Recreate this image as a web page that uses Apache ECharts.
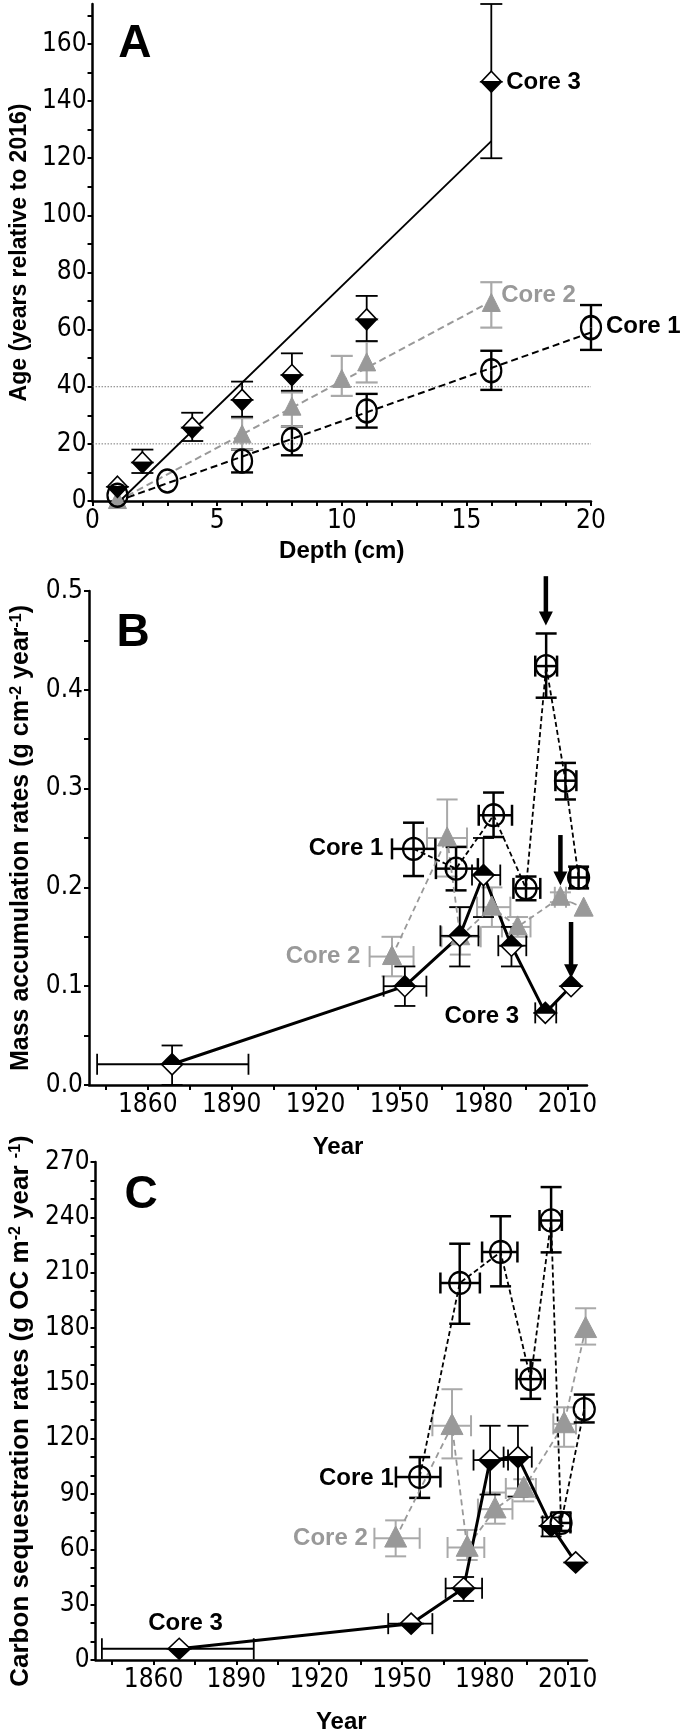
<!DOCTYPE html>
<html><head><meta charset="utf-8">
<script src="https://cdn.jsdelivr.net/npm/echarts@6/dist/echarts.min.js"></script>
<style>html,body{margin:0;padding:0;background:#fff}#c{width:685px;height:1735px}</style>
</head><body><div id="c"></div>
<script>
// ================= DATA =================
// ---- Panel A: age vs depth
const depthLabels = [0, 5, 10, 15, 20];
const depthTicks = [0,1,2,3,4,5,6,7,8,9,10,11,12,13,14,15,16,17,18,19,20];
const ageLabels = [0, 20, 40, 60, 80, 100, 120, 140, 160];
const ageTicks = [0,10,20,30,40,50,60,70,80,90,100,110,120,130,140,150,160,170];
const aRefLevels = [20, 40];

const aC1Depth = [1, 3, 6, 8, 11, 16, 20];
const aC1Age   = [2, 7, 14, 21.5, 31.5, 45.6, 60.7];
const aC1Lo    = [null, null, 10, 16, 25.7, 38.9, 52.9];
const aC1Hi    = [null, null, 18, 26, 37.5, 52.6, 68.6];

const aC2Depth = [1, 6, 8, 10, 11, 16];
const aC2Age   = [0, 23, 32.7, 42.4, 48.2, 69];
const aC2Lo    = [null, 18, 26, 36.8, 41.5, 60.7];
const aC2Hi    = [null, 29, 38, 50.8, 55.8, 76.6];

const aC3Depth = [1, 2, 4, 6, 8, 11, 16];
const aC3Age   = [5, 13.5, 25.7, 35.4, 44.1, 63.6, 146.8];
const aC3Lo    = [null, 9.8, 21, 29.5, 38.6, 56, 120];
const aC3Hi    = [null, 18, 30.9, 41.8, 51.7, 71.8, 174];

// regression lines (end points)
const aFit1Depth = [1, 20];   const aFit1Age = [0, 59];
const aFit2Depth = [1, 15.8]; const aFit2Age = [0, 69];
const aFit3Depth = [1.1, 16]; const aFit3Age = [0, 126];

// ---- Panels B & C: year axis
const yearLabels = [1860, 1890, 1920, 1950, 1980, 2010];
const yearTicks = [1845,1860,1875,1890,1905,1920,1935,1950,1965,1980,1995,2010];

// ---- Panel B: mass accumulation rates
const marLabels = [0, 0.1, 0.2, 0.3, 0.4, 0.5];
const marTicks = [0,0.05,0.1,0.15,0.2,0.25,0.3,0.35,0.4,0.45,0.5];

const bC1Year = [1955.0, 1970.2, 1983.6, 1995.2, 2002.4, 2009.3, 2014.0];
const bC1Val  = [0.239, 0.219, 0.273, 0.199, 0.424, 0.308, 0.210];
const bC1XLo  = [1947.3, 1963.0, 1978.3, 1990.7, 1998.5, 2005.7, 2011.0];
const bC1XHi  = [1962.8, 1978.0, 1990.2, 2000.3, 2006.3, 2013.2, 2017.0];
const bC1YLo  = [0.2115, 0.197, 0.251, 0.187, 0.392, 0.289, 0.199];
const bC1YHi  = [0.2655, 0.241, 0.296, 0.211, 0.457, 0.326, 0.221];

const bC2Year = [1947.3, 1967.0, 1971.7, 1983.0, 1992.2, 2007.5, 2015.8];
const bC2Val  = [0.130, 0.250, 0.150, 0.180, 0.160, 0.190, 0.179];
const bC2XLo  = [1939.3, 1959.8, 1965.0, 1977.7, 1986.6, 2005.5, null];
const bC2XHi  = [1955.0, 1974.1, 1979.0, 1989.6, 1996.8, 2009.5, null];
const bC2YLo  = [0.110, 0.211, 0.132, 0.160, 0.150, 0.185, null];
const bC2YHi  = [0.150, 0.289, 0.180, 0.200, 0.170, 0.195, null];

const bC3Year = [1868.7, 1951.9, 1971.5, 1980.0, 1990.0, 2002.1, 2011.3];
const bC3Val  = [0.021, 0.100, 0.151, 0.2125, 0.141, 0.073, 0.100];
const bC3XLo  = [1841.9, 1944.3, 1964.6, 1975.9, 1985.3, 1998.5, null];
const bC3XHi  = [1896.0, 1959.6, 1978.2, 1986.0, 1995.3, 2006.0, null];
const bC3YLo  = [0.0, 0.08, 0.12, 0.17, 0.12, null, null];
const bC3YHi  = [0.04, 0.12, 0.18, 0.25, 0.16, null, null];

// arrows in panel B: year, from value, to value
const bArrowYear = [2002.3, 2007.5, 2011.3];
const bArrowFrom = [0.515, 0.253, 0.165];
const bArrowTo   = [0.465, 0.202, 0.108];

// ---- Panel C: carbon sequestration rates
const csrLabels = [0, 30, 60, 90, 120, 150, 180, 210, 240, 270];
const csrTicks = [0,10,20,30,40,50,60,70,80,90,100,110,120,130,140,150,160,170,180,190,200,210,220,230,240,250,260,270];

const cC1Year = [1956.4, 1970.9, 1985.7, 1996.6, 2004.0, 2007.6, 2016.0];
const cC1Val  = [99.2, 204.4, 221.2, 152.3, 238.3, 74.3, 136];
const cC1XLo  = [1947.8, 1963.9, 1979.0, 1991.5, 1999.8, 2004.0, null];
const cC1XHi  = [1963.9, 1978.2, 1991.8, 2001.7, 2007.9, 2011.0, null];
const cC1YLo  = [87.9, 182.3, 202.6, 141.6, 221, 70, 128.8];
const cC1YHi  = [110, 225.7, 240.6, 162.6, 256.4, 80, 143.9];

const cC2Year = [1947.7, 1968.1, 1973.6, 1983.7, 1994.1, 2008.7, 2016.5];
const cC2Val  = [66, 127, 61, 81.8, 93, 128, 179.6];
const cC2XLo  = [1940.0, 1961.0, 1966.5, 1977.5, 1987.6, 2004.8, null];
const cC2XHi  = [1956.4, 1975.0, 1979.8, 1990.0, 1998.5, 2013.0, null];
const cC2YLo  = [56.2, 109.3, 54.2, 73.9, 86, 115.6, 171];
const cC2YHi  = [75.7, 146.8, 70.5, 90.8, 98, 137, 190.7];

const cC3Year = [1869.3, 1953.3, 1972.3, 1981.9, 1992.0, 2004.0, 2012.9];
const cC3Val  = [6.1, 19.7, 38.9, 108.4, 110, 72.7, 52.9];
const cC3XLo  = [1841.3, 1945.0, 1965.8, 1975.9, 1986.8, 2000.9, null];
const cC3XHi  = [1896.3, 1961.0, 1979.0, 1988.4, 1997.0, 2007.0, null];
const cC3YLo  = [null, null, 32, 89.7, 88.6, 67, null];
const cC3YHi  = [null, null, 45, 127, 127, 77.3, null];

// ================= STYLE / LAYOUT =================
const FONT = '"Liberation Sans", Arial, Helvetica, sans-serif';
function hasFont(name){
  const c = document.createElement('canvas').getContext('2d');
  const t = '1860 0.5 Core wmW';
  c.font = '30px monospace'; const w1 = c.measureText(t).width;
  c.font = '30px "' + name + '", monospace'; const w2 = c.measureText(t).width;
  return Math.abs(w1 - w2) > 0.5;
}
let TICK_FONT = FONT, TICK_SIZE = 25;
if (hasFont('Liberation Sans Narrow')) { TICK_FONT = '"Liberation Sans Narrow"'; TICK_SIZE = 30; }
else if (hasFont('Arial Narrow')) { TICK_FONT = '"Arial Narrow"'; TICK_SIZE = 30; }
else if (hasFont('DejaVu Sans Condensed')) { TICK_FONT = '"DejaVu Sans Condensed"'; TICK_SIZE = 26; }

const GRAY = '#999999';
const GRAY_ERR = '#a9a9a9';

const notes = [
  {g:0, x:1.7, y:160, text:'A', size:46, align:'center'},
  {g:0, x:16.6, y:146.5, text:'Core 3', size:24, align:'left'},
  {g:0, x:16.4, y:72, text:'Core 2', size:24, align:'left', color:GRAY},
  {g:0, x:20.6, y:61, text:'Core 1', size:24, align:'left'},
  {g:1, x:1854.8, y:0.457, text:'B', size:46, align:'center'},
  {g:1, x:1944.2, y:0.239, text:'Core 1', size:24, align:'right'},
  {g:1, x:1936.0, y:0.130, text:'Core 2', size:24, align:'right', color:GRAY},
  {g:1, x:1979.4, y:0.069, text:'Core 3', size:24, align:'center'},
  {g:2, x:1855.5, y:252, text:'C', size:46, align:'center'},
  {g:2, x:1947.0, y:98.5, text:'Core 1', size:24, align:'right'},
  {g:2, x:1937.6, y:66, text:'Core 2', size:24, align:'right', color:GRAY},
  {g:2, x:1871.6, y:19.6, text:'Core 3', size:24, align:'center'}
];

// ================= HELPERS =================
function pairs(xs, ys){ return xs.map((x,i)=>[x, ys[i]]); }

function errSeries(g, xs, ys, xlo, xhi, ylo, yhi, color, width, capY, capX){
  return {
    type:'custom', xAxisIndex:g, yAxisIndex:g, z:2, silent:true, clip:false,
    data: pairs(xs, ys),
    renderItem(params, api){
      const i = params.dataIndex;
      const x = api.value(0), y = api.value(1);
      const st = {stroke:color, lineWidth:width, fill:null};
      const ch = [];
      const seg = (a,b)=>ch.push({type:'line', shape:{x1:a[0],y1:a[1],x2:b[0],y2:b[1]}, style:st});
      const c = api.coord([x,y]);
      [ylo, yhi].forEach(arr=>{
        if (arr && arr[i]!=null){
          const p = api.coord([x, arr[i]]);
          seg(c, p); seg([p[0]-capY, p[1]], [p[0]+capY, p[1]]);
        }
      });
      [xlo, xhi].forEach(arr=>{
        if (arr && arr[i]!=null){
          const p = api.coord([arr[i], y]);
          seg(c, p); seg([p[0], p[1]-capX], [p[0], p[1]+capX]);
        }
      });
      return {type:'group', children:ch};
    }
  };
}

function markerSeries(g, xs, ys, kind, w, h, opt){
  opt = opt || {};
  return {
    type:'custom', xAxisIndex:g, yAxisIndex:g, z:5, silent:true, clip:false,
    data: pairs(xs, ys),
    renderItem(params, api){
      const p = api.coord([api.value(0), api.value(1)]);
      const cx = p[0], cy = p[1];
      if (kind === 'circle'){
        return {type:'circle', x:cx, y:cy, scaleY:h/w, shape:{cx:0, cy:0, r:w/2},
          style:{fill:null, stroke:'#000', lineWidth:2.2}};
      }
      if (kind === 'tri'){
        return {type:'polygon', shape:{points:[[cx, cy-h*0.58],[cx-w/2, cy+h*0.42],[cx+w/2, cy+h*0.42]]},
          style:{fill:GRAY, stroke:GRAY, lineWidth:1}};
      }
      const top = [[cx, cy-h/2],[cx+w/2, cy],[cx-w/2, cy]];
      const bot = [[cx-w/2, cy],[cx+w/2, cy],[cx, cy+h/2]];
      const darkTop = opt.darkTop;
      return {type:'group', children:[
        {type:'polygon', shape:{points:top}, style:{fill: darkTop ? '#000' : '#fff', stroke:'#000', lineWidth:1.6, lineJoin:'miter'}},
        {type:'polygon', shape:{points:bot}, style:{fill: darkTop ? '#fff' : '#000', stroke:'#000', lineWidth:1.6, lineJoin:'miter'}}
      ]};
    }
  };
}

function lineSeries(g, xs, ys, color, width, dash, z){
  return {type:'line', xAxisIndex:g, yAxisIndex:g, data:pairs(xs, ys), symbol:'none', silent:true,
    z: z||3, animation:false, lineStyle:{color:color, width:width, type:dash || 'solid'}};
}

function arrowSeries(g, xs, from, to){
  return {type:'custom', xAxisIndex:g, yAxisIndex:g, z:8, silent:true, clip:false,
    data: pairs(xs, from),
    renderItem(params, api){
      const i = params.dataIndex;
      const a = api.coord([xs[i], from[i]]);
      const b = api.coord([xs[i], to[i]]);
      const headL = 14, headW = 7;
      return {type:'group', children:[
        {type:'line', shape:{x1:a[0], y1:a[1], x2:b[0], y2:b[1]-headL+2}, style:{stroke:'#000', lineWidth:4.5}},
        {type:'polygon', shape:{points:[[b[0]-headW, b[1]-headL],[b[0]+headW, b[1]-headL],[b[0], b[1]]]}, style:{fill:'#000'}}
      ]};
    }};
}

function textSeries(g, items){
  return {type:'custom', xAxisIndex:g, yAxisIndex:g, z:10, silent:true, clip:false,
    data: items.map(t=>[t.x, t.y]),
    renderItem(params, api){
      const t = items[params.dataIndex];
      const p = api.coord([api.value(0), api.value(1)]);
      return {type:'text', x:p[0], y:p[1], style:{text:t.text, fill:t.color||'#000', fontSize:t.size,
        fontWeight:'bold', fontFamily:FONT, align:t.align, verticalAlign:'middle'}};
    }};
}

function valueAxis(g, min, max, labels, ticks, fmt, name, nameGap, isY, nameSize){
  const ns = nameSize || 24;
  const ax = {
    type:'value', gridIndex:g, min:min, max:max,
    axisLine:{show:true, onZero:false, lineStyle:{color:'#000', width:2.5}},
    axisTick:{show:true, customValues:ticks, length:5, inside:false, lineStyle:{color:'#000', width:2}},
    axisLabel:{customValues:labels, color:'#000', fontSize:TICK_SIZE, fontFamily:TICK_FONT, margin: isY ? 6 : 7,
      formatter: fmt || (v=>String(v))},
    splitLine:{show:false},
    name:name, nameLocation:'middle', nameGap:nameGap,
    nameTextStyle:{color:'#000', fontSize:ns, fontWeight:'bold', fontFamily:FONT,
      rich:{s:{fontSize:Math.round(ns*0.62), fontWeight:'bold', fontFamily:FONT, color:'#000', verticalAlign:'top'}}}
  };
  if (isY) ax.nameRotate = 90;
  return ax;
}

// ================= OPTION =================
const series = [];
aRefLevels.forEach(v=>series.push(lineSeries(0, [depthLabels[0], depthLabels[depthLabels.length-1]], [v, v], '#7a7a7a', 1, [1.5, 1.5], 1)));

// Panel A
series.push(lineSeries(0, aFit1Depth, aFit1Age, '#000', 2, [7,4]));
series.push(lineSeries(0, aFit2Depth, aFit2Age, GRAY, 2, [7,4]));
series.push(lineSeries(0, aFit3Depth, aFit3Age, '#000', 1.8));
series.push(errSeries(0, aC1Depth, aC1Age, null, null, aC1Lo, aC1Hi, '#000', 2.4, 11, 10));
series.push(errSeries(0, aC2Depth, aC2Age, null, null, aC2Lo, aC2Hi, GRAY_ERR, 2.2, 11, 10));
series.push(errSeries(0, aC3Depth, aC3Age, null, null, aC3Lo, aC3Hi, '#000', 1.8, 11, 10));
series.push(markerSeries(0, aC2Depth, aC2Age, 'tri', 18, 18));
series.push(markerSeries(0, aC3Depth, aC3Age, 'diamond', 20, 21, {darkTop:false}));
series.push(markerSeries(0, aC1Depth, aC1Age, 'circle', 20, 23));

// Panel B
series.push(errSeries(1, bC2Year, bC2Val, bC2XLo, bC2XHi, bC2YLo, bC2YHi, GRAY_ERR, 2, 10.5, 10.5));
series.push(errSeries(1, bC1Year, bC1Val, bC1XLo, bC1XHi, bC1YLo, bC1YHi, '#000', 2.5, 10.5, 10.5));
series.push(errSeries(1, bC3Year, bC3Val, bC3XLo, bC3XHi, bC3YLo, bC3YHi, '#000', 1.8, 10.5, 10.5));
series.push(lineSeries(1, bC2Year, bC2Val, GRAY, 1.8, [6,4]));
series.push(lineSeries(1, bC1Year, bC1Val, '#000', 1.8, [5,3]));
series.push(lineSeries(1, bC3Year, bC3Val, '#000', 3));
series.push(markerSeries(1, bC2Year, bC2Val, 'tri', 19, 19));
series.push(markerSeries(1, bC3Year, bC3Val, 'diamond', 21, 21, {darkTop:true}));
series.push(markerSeries(1, bC1Year, bC1Val, 'circle', 21, 22));
series.push(arrowSeries(1, bArrowYear, bArrowFrom, bArrowTo));

// Panel C
series.push(errSeries(2, cC2Year, cC2Val, cC2XLo, cC2XHi, cC2YLo, cC2YHi, GRAY_ERR, 2, 10.5, 10.5));
series.push(errSeries(2, cC1Year, cC1Val, cC1XLo, cC1XHi, cC1YLo, cC1YHi, '#000', 2.5, 10.5, 10.5));
series.push(errSeries(2, cC3Year, cC3Val, cC3XLo, cC3XHi, cC3YLo, cC3YHi, '#000', 1.8, 10.5, 10.5));
series.push(lineSeries(2, cC2Year, cC2Val, GRAY, 1.8, [6,4]));
series.push(lineSeries(2, cC1Year, cC1Val, '#000', 1.8, [5,3]));
series.push(lineSeries(2, cC3Year, cC3Val, '#000', 3));
series.push(markerSeries(2, cC2Year, cC2Val, 'tri', 22, 21));
series.push(markerSeries(2, cC3Year, cC3Val, 'diamond', 22, 21, {darkTop:false}));
series.push(markerSeries(2, cC1Year, cC1Val, 'circle', 21, 22));

[0,1,2].forEach(g=>series.push(textSeries(g, notes.filter(n=>n.g===g))));

const option = {
  animation:false,
  backgroundColor:'#fff',
  grid:[
    {left:91, top:4, width:500, height:497},
    {left:89, top:591, width:498, height:494},
    {left:89, top:1162, width:498, height:500}
  ],
  xAxis:[
    valueAxis(0, 0, 20, depthLabels, depthTicks, null, 'Depth (cm)', 38, false),
    valueAxis(1, 1839, 2017, yearLabels, yearTicks, null, 'Year', 50, false),
    valueAxis(2, 1839, 2017, yearLabels, yearTicks, null, 'Year', 50, false)
  ],
  yAxis:[
    valueAxis(0, 0, 174, ageLabels, ageTicks, null, 'Age (years relative to 2016)', 55, true, 23),
    valueAxis(1, 0, 0.5, marLabels, marTicks, v=>v.toFixed(1), 'Mass accumulation rates (g cm{s|-2} year{s|-1})', 55, true, 25),
    valueAxis(2, 0, 270, csrLabels, csrTicks, null, 'Carbon sequestration rates (g OC m{s|-2} year {s|-1})', 55, true, 26)
  ],
  series: series
};

const chart = echarts.init(document.getElementById('c'), null, {renderer:'canvas'});
chart.setOption(option);
</script></body></html>
